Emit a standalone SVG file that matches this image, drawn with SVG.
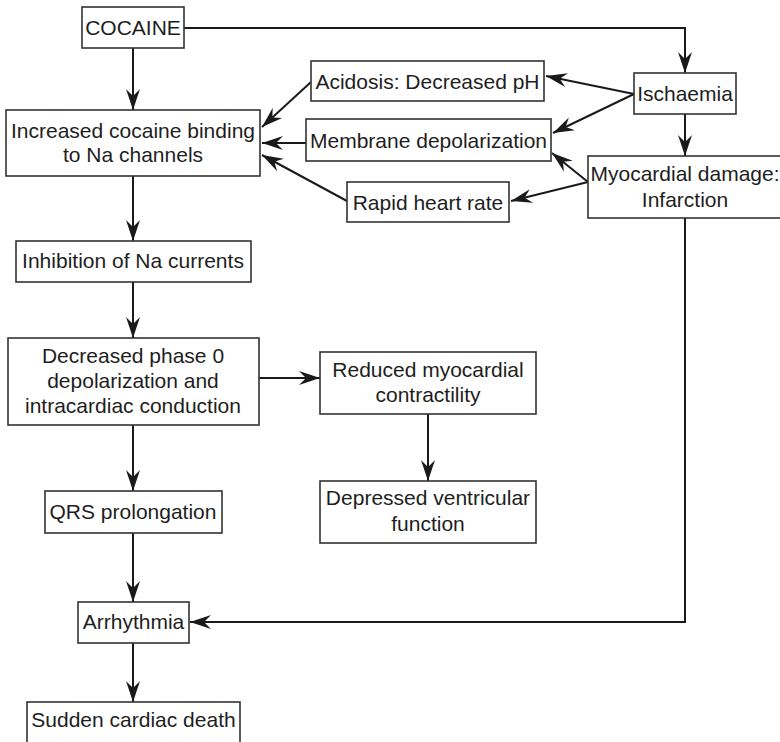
<svg xmlns="http://www.w3.org/2000/svg" width="780" height="742" viewBox="0 0 780 742">
  <style>
    .box { fill: #ffffff; stroke: #333333; stroke-width: 1.6; }
    .lbl { font-family: "Liberation Sans", Arial, Helvetica, sans-serif; font-size: 21px; fill: #1e1e1e; text-anchor: middle; }
    .edge { fill: none; stroke: #1a1a1a; stroke-width: 2; marker-end: url(#head); }
  </style>
  <defs>
    <marker id="head" markerUnits="userSpaceOnUse" markerWidth="24" markerHeight="16" viewBox="-22 -8 24 16" refX="0" refY="0" orient="auto" overflow="visible">
      <path d="M0,0 L-21,-7 L-14,0 L-21,7 Z" fill="#1a1a1a"/>
    </marker>
  </defs>
  <rect width="780" height="742" fill="#ffffff"/>

  <g id="connectors">
    <path class="edge" d="M133,48 V110"/>
    <path class="edge" d="M184,28 H685 V73"/>
    <path class="edge" d="M685,114 V156"/>
    <path class="edge" d="M634,94 L546,76"/>
    <path class="edge" d="M634,94 L553,133"/>
    <path class="edge" d="M588,182 L552,153"/>
    <path class="edge" d="M588,182 L511,201"/>
    <path class="edge" d="M311,82 L262,127"/>
    <path class="edge" d="M306,143 L262,143"/>
    <path class="edge" d="M347,201 L262,155"/>
    <path class="edge" d="M133,176 V241"/>
    <path class="edge" d="M133,282 V338"/>
    <path class="edge" d="M259,378 H320"/>
    <path class="edge" d="M428,414 V481"/>
    <path class="edge" d="M133,425 V491"/>
    <path class="edge" d="M133,533 V602"/>
    <path class="edge" d="M685,218 V622 H190"/>
    <path class="edge" d="M133,643 V702"/>
  </g>

  <g id="cocaine">
    <rect class="box" x="82" y="7" width="102" height="41"/>
    <text class="lbl" x="133" y="35">COCAINE</text>
  </g>
  <g id="binding">
    <rect class="box" x="6" y="110" width="254" height="66"/>
    <text class="lbl" x="133" y="138">Increased cocaine binding</text>
    <text class="lbl" x="133" y="162">to Na channels</text>
  </g>
  <g id="acidosis">
    <rect class="box" x="311" y="61" width="233" height="40"/>
    <text class="lbl" x="427.5" y="88.5">Acidosis: Decreased pH</text>
  </g>
  <g id="membrane">
    <rect class="box" x="306" y="119" width="245" height="42"/>
    <text class="lbl" x="428.5" y="147.5">Membrane depolarization</text>
  </g>
  <g id="heartrate">
    <rect class="box" x="347" y="182" width="162" height="40"/>
    <text class="lbl" x="428" y="209.5">Rapid heart rate</text>
  </g>
  <g id="ischaemia">
    <rect class="box" x="634" y="73" width="102" height="41"/>
    <text class="lbl" x="685" y="101">Ischaemia</text>
  </g>
  <g id="infarction">
    <rect class="box" x="588" y="156" width="196" height="62"/>
    <text class="lbl" x="685" y="180.5">Myocardial damage:</text>
    <text class="lbl" x="685" y="206.5">Infarction</text>
  </g>
  <g id="inhibition">
    <rect class="box" x="16" y="241" width="235" height="41"/>
    <text class="lbl" x="133" y="268">Inhibition of Na currents</text>
  </g>
  <g id="phase0">
    <rect class="box" x="8" y="338" width="251" height="87"/>
    <text class="lbl" x="133" y="363">Decreased phase 0</text>
    <text class="lbl" x="133" y="388">depolarization and</text>
    <text class="lbl" x="133" y="413">intracardiac conduction</text>
  </g>
  <g id="contractility">
    <rect class="box" x="320" y="352" width="216" height="62"/>
    <text class="lbl" x="428" y="377">Reduced myocardial</text>
    <text class="lbl" x="428" y="402">contractility</text>
  </g>
  <g id="ventricular">
    <rect class="box" x="320" y="481" width="216" height="62"/>
    <text class="lbl" x="428" y="505">Depressed ventricular</text>
    <text class="lbl" x="428" y="531">function</text>
  </g>
  <g id="qrs">
    <rect class="box" x="45" y="491" width="177" height="42"/>
    <text class="lbl" x="133" y="519">QRS prolongation</text>
  </g>
  <g id="arrhythmia">
    <rect class="box" x="78" y="602" width="111" height="41"/>
    <text class="lbl" x="133.5" y="629">Arrhythmia</text>
  </g>
  <g id="death">
    <rect class="box" x="27" y="702" width="213" height="50"/>
    <text class="lbl" x="133.5" y="727">Sudden cardiac death</text>
  </g>
</svg>
